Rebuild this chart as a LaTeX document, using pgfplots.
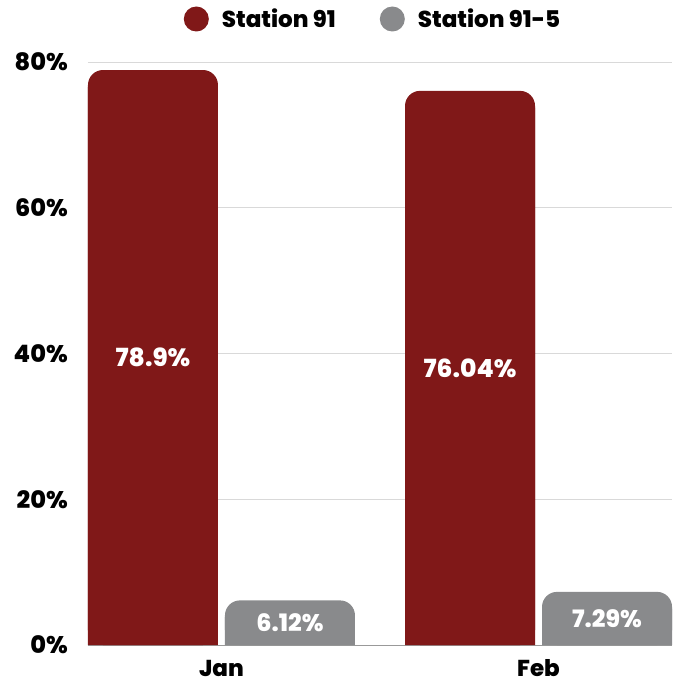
\documentclass[border=0pt]{standalone}
\usepackage{fontspec}
\setmainfont{Poppins}[BoldFont={Poppins ExtraBold}]
\usepackage{pgfplots}
\pgfplotsset{compat=1.18}
\usepackage{pgfplotstable}
\definecolor{cred}{RGB}{128,24,24}
\definecolor{cgray}{RGB}{137,138,140}
\definecolor{cgrid}{RGB}{217,217,217}
\pgfplotstableread{
x a b
0 78.9 6.12
1 76.04 7.29
}\data
\begin{document}
\begin{tikzpicture}
\begin{axis}[name=ax, scale only axis, width=584pt, height=583pt,
 xmin=-0.421, xmax=1.421, ymin=0, ymax=80,
 ytick={0,20,40,60,80}, yticklabels={0\%,20\%,40\%,60\%,80\%},
 xtick={0,1}, xticklabels={Jan,Feb},
 ymajorgrids, grid style={cgrid, line width=0.8pt},
 axis x line*=bottom, axis y line*=left, y axis line style={draw=none},
 x axis line style={gray!80, line width=1pt},
 major tick length=0pt,
 tick label style={font=\fontsize{24}{28}\selectfont\bfseries},
 yticklabel style={anchor=east, inner sep=0pt, xshift=-20pt},
 xticklabel style={anchor=base, inner sep=0pt, yshift=-31pt, font=\fontsize{23}{28}\selectfont\bfseries},
 /pgf/number format/assume math mode=true,
 legend columns=2,
 legend style={draw=none, at={(0.5,1)}, anchor=center, yshift=43pt, xshift=-7pt,
   font=\fontsize{23}{28}\selectfont\bfseries,
   nodes={inner sep=2pt},
   /tikz/every odd column/.append style={column sep=11pt},
   /tikz/every even column/.append style={column sep=42pt}},
]
\addplot[ybar, bar width=130pt, bar shift=-68.5pt, fill=cred, draw=none, rounded corners=15pt,
  legend image code/.code={\fill[cred] (0pt,0pt) circle (12.5pt);}]
  table[x=x, y=a] {\data};
\addlegendentry{Station 91}
\addplot[ybar, bar width=130pt, bar shift=68.5pt, fill=cgray, draw=none, rounded corners=15pt,
  legend image code/.code={\fill[cgray] (0pt,0pt) circle (12.5pt);}]
  table[x=x, y=b] {\data};
\addlegendentry{Station 91-5}
\addplot[ybar, forget plot, bar width=130pt, bar shift=-68.5pt, fill=cred, draw=none]
  table[x=x, y expr=\thisrow{a}-2.3] {\data};
\addplot[ybar, forget plot, bar width=130pt, bar shift=68.5pt, fill=cgray, draw=none]
  table[x=x, y expr=\thisrow{b}-2.3] {\data};
\addplot[draw=none, forget plot, point meta=explicit,
  nodes near coords={\pgfmathprintnumber[fixed,precision=2]{\pgfplotspointmeta}\%},
  every node near coord/.append style={anchor=center, xshift=-68.5pt, text=white, font=\fontsize{25}{30}\selectfont\bfseries}]
  table[x=x, y expr=\thisrow{a}/2, meta=a] {\data};
\addplot[draw=none, forget plot, point meta=explicit,
  nodes near coords={\pgfmathprintnumber[fixed,precision=2]{\pgfplotspointmeta}\%},
  every node near coord/.append style={anchor=center, xshift=68.5pt, text=white, font=\fontsize{24}{30}\selectfont\bfseries}]
  table[x=x, y expr=\thisrow{b}/2, meta=b] {\data};
\end{axis}
\pgfresetboundingbox
\path (ax.south west) ++(-88pt,-38pt) rectangle ++(678pt,683pt);
\end{tikzpicture}
\end{document}
